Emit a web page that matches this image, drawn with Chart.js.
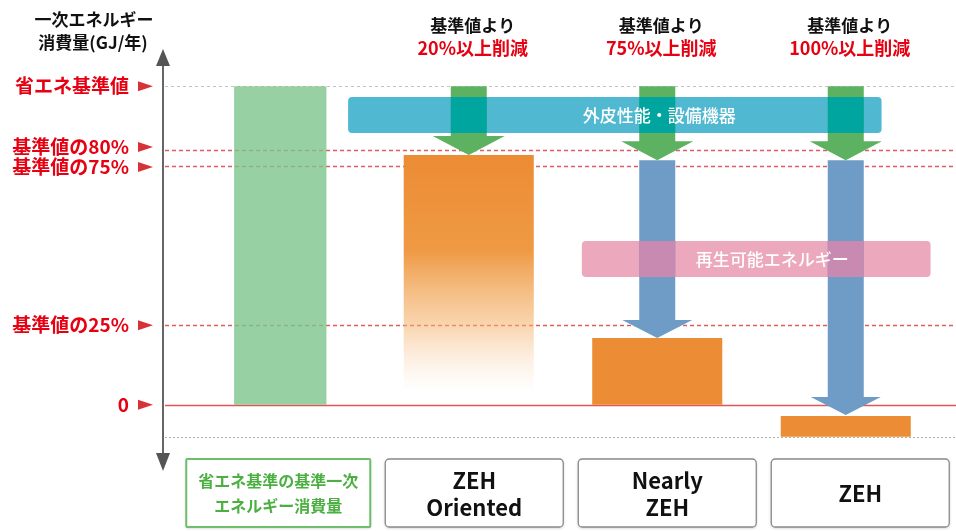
<!DOCTYPE html>
<html>
<head>
<meta charset="utf-8">
<script src="https://cdn.jsdelivr.net/npm/chart.js@4"></script>
<style>
  html, body { margin: 0; padding: 0; background: #fff; }
  #wrap { width: 956px; height: 531px; position: relative; }
</style>
</head>
<body>
<div id="wrap"><canvas id="myChart"></canvas></div>
<script>
// categories and bar ranges (unit: % of the 省エネ基準値)
const categories = [["省エネ基準の基準一次", "エネルギー消費量"], ["ZEH", "Oriented"], ["Nearly", "ZEH"], ["ZEH"]];
const barLow = [0, 0, 0, -10];
const barHigh = [100, 78.4, 21, -3.5];

// reduction notes above each column
const noteTop = [null, "基準値より", "基準値より", "基準値より"];
const noteRed = [null, "20%以上削減", "75%以上削減", "100%以上削減"];

// reference levels on the left
const refLevels = [100, 80, 75, 25, 0];
const refLabels = ["省エネ基準値", "基準値の80%", "基準値の75%", "基準値の25%", "0"];
const bottomLevel = -10;

// arrows: green (外皮性能・設備機器) and blue (再生可能エネルギー)
const greenFrom = [null, 100, 100, 100];
const greenTo = [null, 78.4, 76.8, 76.8];
const blueFrom = [null, null, 76.8, 76.8];
const blueTo = [null, null, 21, -3.2];

// bands [top, bottom] in value units, x range in category units
const envBand = { label: "外皮性能・設備機器", top: 96.6, bottom: 85.3, x0: 0.36, x1: 3.19, tx: 2.01 };
const renewBand = { label: "再生可能エネルギー", top: 51.4, bottom: 40.1, x0: 1.60, x1: 3.45, tx: 2.61 };

const FONT = '"Noto Sans CJK JP", "Noto Sans", sans-serif';
const ORANGE = "rgb(236,140,52)";

function orangeFill(ctx) {
  const chart = ctx.chart;
  if (!chart.chartArea) return ORANGE;
  const y = chart.scales.y;
  const g = chart.ctx.createLinearGradient(0, y.getPixelForValue(78), 0, y.getPixelForValue(4));
  g.addColorStop(0, "rgba(236,140,52,1)");
  g.addColorStop(0.4, "rgba(238,148,58,0.95)");
  g.addColorStop(0.72, "rgba(244,180,110,0.55)");
  g.addColorStop(1, "rgba(250,215,180,0)");
  return g;
}

function arrow(ctx, x, y0, y1, shaft, head, headLen, color, clipRect, overlap) {
  const draw = () => {
    ctx.beginPath();
    ctx.moveTo(x - shaft / 2, y0);
    ctx.lineTo(x + shaft / 2, y0);
    ctx.lineTo(x + shaft / 2, y1 - headLen);
    ctx.lineTo(x + head / 2, y1 - headLen);
    ctx.lineTo(x, y1);
    ctx.lineTo(x - head / 2, y1 - headLen);
    ctx.lineTo(x - shaft / 2, y1 - headLen);
    ctx.closePath();
  };
  ctx.fillStyle = color;
  draw();
  ctx.fill();
  if (clipRect) {
    ctx.save();
    ctx.beginPath();
    ctx.rect(clipRect[0], clipRect[1], clipRect[2], clipRect[3]);
    ctx.clip();
    ctx.fillStyle = overlap;
    draw();
    ctx.fill();
    ctx.restore();
  }
}

function roundRect(ctx, x, y, w, h, r) {
  ctx.beginPath();
  ctx.moveTo(x + r, y);
  ctx.arcTo(x + w, y, x + w, y + h, r);
  ctx.arcTo(x + w, y + h, x, y + h, r);
  ctx.arcTo(x, y + h, x, y, r);
  ctx.arcTo(x, y, x + w, y, r);
  ctx.closePath();
}

const decor = {
  id: "decor",
  beforeDatasetsDraw(chart) {
    const ctx = chart.ctx, ys = chart.scales.y;
    const axisX = chart.chartArea.left - 23;
    const right = chart.width;
    ctx.save();
    // reference lines
    refLevels.forEach(v => {
      const py = Math.round(ys.getPixelForValue(v)) + 0.5;
      ctx.beginPath();
      if (v === 100) { ctx.strokeStyle = "#c4c4c4"; ctx.setLineDash([3, 3]); ctx.lineWidth = 1; }
      else if (v === 0) { ctx.strokeStyle = "rgb(225,85,85)"; ctx.setLineDash([]); ctx.lineWidth = 1.5; }
      else { ctx.strokeStyle = "rgb(225,90,95)"; ctx.setLineDash([4, 3]); ctx.lineWidth = 1.3; }
      ctx.moveTo(axisX + 2, py);
      ctx.lineTo(right, py);
      ctx.stroke();
    });
    const by = Math.round(ys.getPixelForValue(bottomLevel)) + 0.5;
    ctx.strokeStyle = "#b0b0b0";
    ctx.setLineDash([2, 2]);
    ctx.lineWidth = 1;
    ctx.beginPath();
    ctx.moveTo(axisX + 2, by);
    ctx.lineTo(right, by);
    ctx.stroke();
    ctx.restore();
  },
  afterDatasetsDraw(chart) {
    const ctx = chart.ctx, xs = chart.scales.x, ys = chart.scales.y;
    const cx = i => xs.getPixelForValue(i);
    const step = cx(1) - cx(0);
    const ux = u => cx(0) + u * step;
    const axisX = chart.chartArea.left - 23;
    ctx.save();

    // bands
    const bandRect = b => [ux(b.x0), ys.getPixelForValue(b.top), ux(b.x1) - ux(b.x0), ys.getPixelForValue(b.bottom) - ys.getPixelForValue(b.top)];
    const envR = bandRect(envBand), renR = bandRect(renewBand);
    ctx.fillStyle = "rgb(80,184,208)";
    roundRect(ctx, envR[0], envR[1], envR[2], envR[3], 4);
    ctx.fill();
    ctx.fillStyle = "rgb(236,168,188)";
    roundRect(ctx, renR[0], renR[1], renR[2], renR[3], 4);
    ctx.fill();

    // arrows
    for (let i = 0; i < categories.length; i++) {
      if (greenFrom[i] !== null) {
        arrow(ctx, cx(i), ys.getPixelForValue(greenFrom[i]), ys.getPixelForValue(greenTo[i]), 36, 72, 19,
          "rgb(92,178,96)", envR, "rgb(0,165,160)");
      }
      if (blueFrom[i] !== null) {
        arrow(ctx, cx(i), ys.getPixelForValue(blueFrom[i]), ys.getPixelForValue(blueTo[i]), 36, 70, 18,
          "rgb(110,156,198)", renR, "rgb(200,138,176)");
      }
    }

    // band labels
    ctx.fillStyle = "#fff";
    ctx.font = "500 17px " + FONT;
    ctx.textAlign = "center";
    ctx.textBaseline = "middle";
    ctx.fillText(envBand.label, ux(envBand.tx), envR[1] + envR[3] / 2);
    ctx.fillText(renewBand.label, ux(renewBand.tx), renR[1] + renR[3] / 2);

    // y axis with arrows both ends
    ctx.strokeStyle = "#666";
    ctx.lineWidth = 2;
    ctx.beginPath();
    ctx.moveTo(axisX, 62);
    ctx.lineTo(axisX, 458);
    ctx.stroke();
    ctx.fillStyle = "#555";
    ctx.beginPath();
    ctx.moveTo(axisX, 49); ctx.lineTo(axisX + 7, 66); ctx.lineTo(axisX - 7, 66); ctx.closePath(); ctx.fill();
    ctx.beginPath();
    ctx.moveTo(axisX, 471); ctx.lineTo(axisX + 7, 453); ctx.lineTo(axisX - 7, 453); ctx.closePath(); ctx.fill();

    // left labels and markers
    ctx.font = "bold 19px " + FONT;
    ctx.textAlign = "right";
    refLevels.forEach((v, i) => {
      const py = ys.getPixelForValue(v);
      const dy = v === 80 ? -3 : v === 75 ? 1 : 0;
      ctx.fillStyle = "#e60012";
      ctx.fillText(refLabels[i], axisX - 34, py + dy);
      ctx.fillStyle = "rgb(215,50,55)";
      ctx.beginPath();
      ctx.moveTo(axisX - 25, py + dy - 5);
      ctx.lineTo(axisX - 10, py + dy);
      ctx.lineTo(axisX - 25, py + dy + 5);
      ctx.closePath();
      ctx.fill();
    });

    // axis title
    ctx.fillStyle = "#111";
    ctx.textAlign = "center";
    ctx.font = "bold 17px " + FONT;
    ctx.fillText("一次エネルギー", 94, 20);
    ctx.fillText("消費量(GJ/年)", 93, 43);

    // reduction notes
    for (let i = 0; i < categories.length; i++) {
      if (!noteTop[i]) continue;
      ctx.fillStyle = "#111";
      ctx.font = "bold 17px " + FONT;
      ctx.fillText(noteTop[i], cx(i) + 4, 26);
      ctx.fillStyle = "#e60012";
      ctx.font = "bold 18px " + FONT;
      ctx.fillText(noteRed[i], cx(i) + 4, 48);
    }

    // category boxes
    const boxPitch = 193;
    categories.forEach((lines, i) => {
      const w = i === 0 ? 184 : 178;
      const mx = cx(0) - 2 + i * boxPitch + (i === 0 ? 0 : 3);
      const x = mx - w / 2, y = 459, h = 68;
      ctx.save();
      ctx.shadowColor = "rgba(0,0,0,0.25)";
      ctx.shadowBlur = 3;
      ctx.shadowOffsetY = 1;
      ctx.fillStyle = "#fff";
      roundRect(ctx, x, y, w, h, i === 0 ? 1 : 4);
      ctx.fill();
      ctx.restore();
      ctx.lineWidth = i === 0 ? 2 : 1.3;
      ctx.strokeStyle = i === 0 ? "rgb(110,190,110)" : "#8a8a8a";
      roundRect(ctx, x, y, w, h, i === 0 ? 1 : 4);
      ctx.stroke();
      if (i === 0) {
        ctx.fillStyle = "rgb(75,175,65)";
        ctx.font = "bold 16px " + FONT;
        ctx.fillText(lines[0], mx, y + 22);
        ctx.fillText(lines[1], mx, y + 47);
      } else {
        ctx.fillStyle = "#111";
        ctx.font = "bold 22px " + FONT;
        if (lines.length === 2) {
          ctx.fillText(lines[0], mx, y + 22);
          ctx.fillText(lines[1], mx, y + 49);
        } else {
          ctx.fillText(lines[0], mx, y + 35);
        }
      }
    });
    ctx.restore();
  }
};

const baseData = categories.map((c, i) => (i === 0 ? [barLow[i], barHigh[i]] : null));
const stepData = categories.map((c, i) => (i === 0 ? null : [barLow[i], barHigh[i]]));

new Chart(document.getElementById("myChart").getContext("2d"), {
  type: "bar",
  data: {
    labels: categories.map(c => c.join(" ")),
    datasets: [
      {
        data: baseData,
        backgroundColor: "rgba(125,198,140,0.8)",
        barPercentage: 0.49,
        categoryPercentage: 1,
        grouped: false,
        skipNull: true
      },
      {
        data: stepData,
        backgroundColor: ctx => (ctx.dataIndex === 1 ? orangeFill(ctx) : ORANGE),
        barPercentage: 0.69,
        categoryPercentage: 1,
        grouped: false,
        skipNull: true
      }
    ]
  },
  options: {
    responsive: true,
    maintainAspectRatio: false,
    animation: false,
    layout: { padding: { left: 186, right: 16, top: 48, bottom: 72 } },
    plugins: { legend: { display: false }, tooltip: { enabled: false } },
    scales: {
      x: { display: false },
      y: { display: false, min: -17, max: 112 }
    }
  },
  plugins: [decor]
});
</script>
</body>
</html>
